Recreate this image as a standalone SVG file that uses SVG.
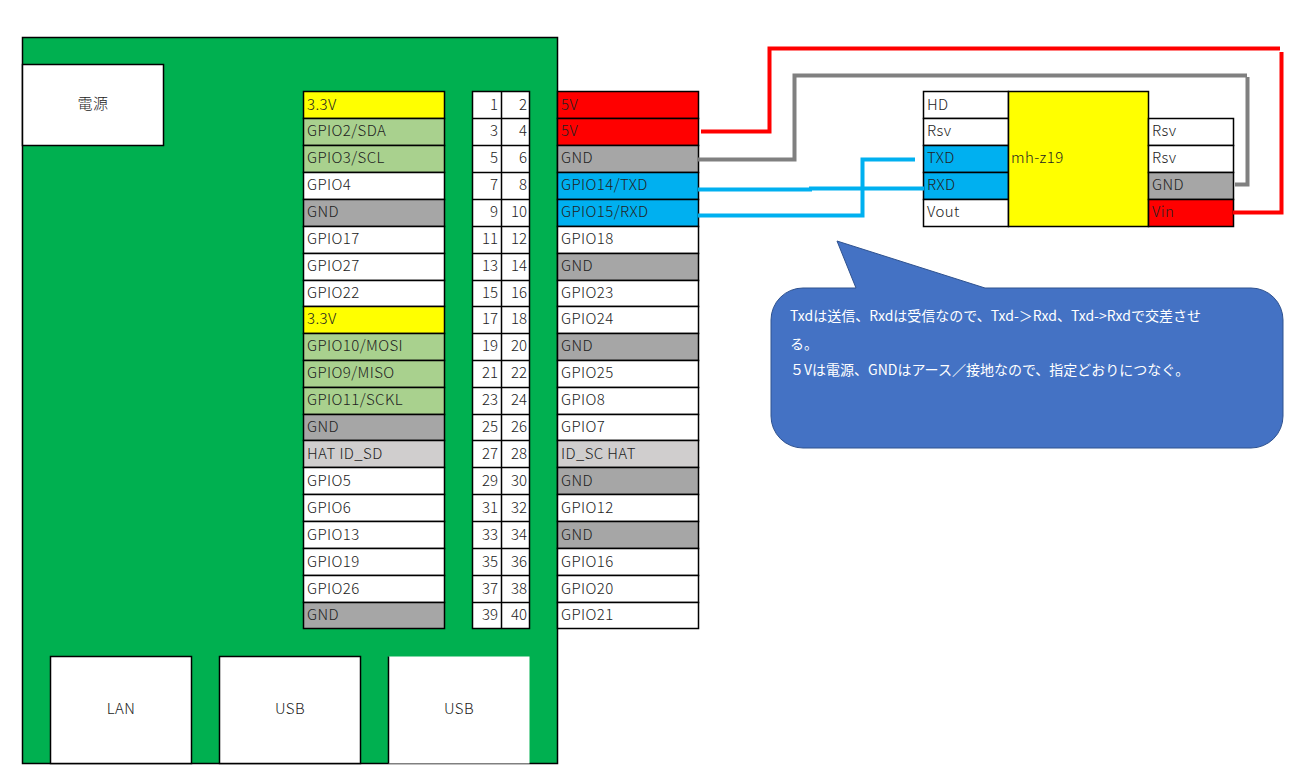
<svg xmlns="http://www.w3.org/2000/svg" width="1313" height="778" viewBox="0 0 1313 778">
<style>
text{font-family:"Noto Sans CJK JP","Noto Sans",sans-serif;font-size:15px;font-weight:300;fill:#222;letter-spacing:.4px}
.n{text-anchor:end;letter-spacing:0}
.c{text-anchor:middle}
.cell{stroke:#000;stroke-width:1.5}
.w{fill:#fff}.y{fill:#ff0}.g{fill:#a9d18e}.k{fill:#a6a6a6}.l{fill:#d0cece}.r{fill:#f00}.b{fill:#00b0f0}
.wire{fill:none;stroke-width:4}
.m{fill:#fff;font-size:14px;font-weight:400;letter-spacing:0}
</style>
<rect width="1313" height="778" fill="#fff"/>
<g id="board"><rect x="22.500" y="37.500" width="535" height="726" fill="#00b050" stroke="#000" stroke-width="1.500"/></g>
<g id="power"><rect class="cell w" x="22.500" y="64.500" width="141" height="81"/><text class="c" x="93" y="109">電源</text></g>
<g id="lan"><rect class="cell w" x="50.500" y="656.500" width="141" height="107"/><text class="c" x="121" y="714">LAN</text></g>
<g id="usb1"><rect class="cell w" x="219.500" y="656.500" width="141" height="107"/><text class="c" x="290" y="714">USB</text></g>
<g id="usb2"><rect x="388.500" y="656.500" width="141" height="107" fill="#fff"/><path d="M388.500 656.500V763.500" stroke="#000" stroke-width="1.500"/><text class="c" x="459" y="714">USB</text></g>
<g id="header-left">
<rect class="cell y" x="303.500" y="91.500" width="141" height="27"/><text x="307" y="110">3.3V</text>
<rect class="cell g" x="303.500" y="118.500" width="141" height="27"/><text x="307" y="136">GPIO2/SDA</text>
<rect class="cell g" x="303.500" y="145.500" width="141" height="27"/><text x="307" y="163">GPIO3/SCL</text>
<rect class="cell w" x="303.500" y="172.500" width="141" height="27"/><text x="307" y="190">GPIO4</text>
<rect class="cell k" x="303.500" y="199.500" width="141" height="27"/><text x="307" y="217">GND</text>
<rect class="cell w" x="303.500" y="226.500" width="141" height="27"/><text x="307" y="244">GPIO17</text>
<rect class="cell w" x="303.500" y="253.500" width="141" height="27"/><text x="307" y="271">GPIO27</text>
<rect class="cell w" x="303.500" y="280.500" width="141" height="26"/><text x="307" y="298">GPIO22</text>
<rect class="cell y" x="303.500" y="306.500" width="141" height="27"/><text x="307" y="324">3.3V</text>
<rect class="cell g" x="303.500" y="333.500" width="141" height="27"/><text x="307" y="351">GPIO10/MOSI</text>
<rect class="cell g" x="303.500" y="360.500" width="141" height="27"/><text x="307" y="378">GPIO9/MISO</text>
<rect class="cell g" x="303.500" y="387.500" width="141" height="27"/><text x="307" y="405">GPIO11/SCKL</text>
<rect class="cell k" x="303.500" y="414.500" width="141" height="26"/><text x="307" y="432">GND</text>
<rect class="cell l" x="303.500" y="440.500" width="141" height="27"/><text x="307" y="459">HAT ID_SD</text>
<rect class="cell w" x="303.500" y="467.500" width="141" height="27"/><text x="307" y="486">GPIO5</text>
<rect class="cell w" x="303.500" y="494.500" width="141" height="27"/><text x="307" y="513">GPIO6</text>
<rect class="cell w" x="303.500" y="521.500" width="141" height="27"/><text x="307" y="540">GPIO13</text>
<rect class="cell w" x="303.500" y="548.500" width="141" height="27"/><text x="307" y="567">GPIO19</text>
<rect class="cell w" x="303.500" y="575.500" width="141" height="27"/><text x="307" y="594">GPIO26</text>
<rect class="cell k" x="303.500" y="602.500" width="141" height="26"/><text x="307" y="620">GND</text>
</g>
<g id="pin-numbers">
<rect class="cell w" x="472.500" y="91.500" width="57" height="537"/>
<path d="M501.500 91.500V628.500M472.500 118.500H529.500M472.500 145.500H529.500M472.500 172.500H529.500M472.500 199.500H529.500M472.500 226.500H529.500M472.500 253.500H529.500M472.500 280.500H529.500M472.500 306.500H529.500M472.500 333.500H529.500M472.500 360.500H529.500M472.500 387.500H529.500M472.500 414.500H529.500M472.500 440.500H529.500M472.500 467.500H529.500M472.500 494.500H529.500M472.500 521.500H529.500M472.500 548.500H529.500M472.500 575.500H529.500M472.500 602.500H529.500" stroke="#000" stroke-width="1.500" fill="none"/>
<text class="n" x="498" y="110">1</text><text class="n" x="527" y="110">2</text>
<text class="n" x="498" y="136">3</text><text class="n" x="527" y="136">4</text>
<text class="n" x="498" y="163">5</text><text class="n" x="527" y="163">6</text>
<text class="n" x="498" y="190">7</text><text class="n" x="527" y="190">8</text>
<text class="n" x="498" y="217">9</text><text class="n" x="527" y="217">10</text>
<text class="n" x="498" y="244">11</text><text class="n" x="527" y="244">12</text>
<text class="n" x="498" y="271">13</text><text class="n" x="527" y="271">14</text>
<text class="n" x="498" y="298">15</text><text class="n" x="527" y="298">16</text>
<text class="n" x="498" y="324">17</text><text class="n" x="527" y="324">18</text>
<text class="n" x="498" y="351">19</text><text class="n" x="527" y="351">20</text>
<text class="n" x="498" y="378">21</text><text class="n" x="527" y="378">22</text>
<text class="n" x="498" y="405">23</text><text class="n" x="527" y="405">24</text>
<text class="n" x="498" y="432">25</text><text class="n" x="527" y="432">26</text>
<text class="n" x="498" y="459">27</text><text class="n" x="527" y="459">28</text>
<text class="n" x="498" y="486">29</text><text class="n" x="527" y="486">30</text>
<text class="n" x="498" y="513">31</text><text class="n" x="527" y="513">32</text>
<text class="n" x="498" y="540">33</text><text class="n" x="527" y="540">34</text>
<text class="n" x="498" y="567">35</text><text class="n" x="527" y="567">36</text>
<text class="n" x="498" y="594">37</text><text class="n" x="527" y="594">38</text>
<text class="n" x="498" y="620">39</text><text class="n" x="527" y="620">40</text>
</g>
<g id="header-right">
<rect class="cell r" x="557.500" y="91.500" width="141" height="27"/><text x="561" y="110">5V</text>
<rect class="cell r" x="557.500" y="118.500" width="141" height="27"/><text x="561" y="136">5V</text>
<rect class="cell k" x="557.500" y="145.500" width="141" height="27"/><text x="561" y="163">GND</text>
<rect class="cell b" x="557.500" y="172.500" width="141" height="27"/><text x="561" y="190">GPIO14/TXD</text>
<rect class="cell b" x="557.500" y="199.500" width="141" height="27"/><text x="561" y="217">GPIO15/RXD</text>
<rect class="cell w" x="557.500" y="226.500" width="141" height="27"/><text x="561" y="244">GPIO18</text>
<rect class="cell k" x="557.500" y="253.500" width="141" height="27"/><text x="561" y="271">GND</text>
<rect class="cell w" x="557.500" y="280.500" width="141" height="26"/><text x="561" y="298">GPIO23</text>
<rect class="cell w" x="557.500" y="306.500" width="141" height="27"/><text x="561" y="324">GPIO24</text>
<rect class="cell k" x="557.500" y="333.500" width="141" height="27"/><text x="561" y="351">GND</text>
<rect class="cell w" x="557.500" y="360.500" width="141" height="27"/><text x="561" y="378">GPIO25</text>
<rect class="cell w" x="557.500" y="387.500" width="141" height="27"/><text x="561" y="405">GPIO8</text>
<rect class="cell w" x="557.500" y="414.500" width="141" height="26"/><text x="561" y="432">GPIO7</text>
<rect class="cell l" x="557.500" y="440.500" width="141" height="27"/><text x="561" y="459">ID_SC HAT</text>
<rect class="cell k" x="557.500" y="467.500" width="141" height="27"/><text x="561" y="486">GND</text>
<rect class="cell w" x="557.500" y="494.500" width="141" height="27"/><text x="561" y="513">GPIO12</text>
<rect class="cell k" x="557.500" y="521.500" width="141" height="27"/><text x="561" y="540">GND</text>
<rect class="cell w" x="557.500" y="548.500" width="141" height="27"/><text x="561" y="567">GPIO16</text>
<rect class="cell w" x="557.500" y="575.500" width="141" height="27"/><text x="561" y="594">GPIO20</text>
<rect class="cell w" x="557.500" y="602.500" width="141" height="26"/><text x="561" y="620">GPIO21</text>
</g>
<g id="mh-z19">
<rect class="cell w" x="923.500" y="91.500" width="85" height="27"/><text x="927" y="110">HD</text>
<rect class="cell w" x="923.500" y="118.500" width="85" height="27"/><text x="927" y="136">Rsv</text>
<rect class="cell b" x="923.500" y="145.500" width="85" height="27"/><text x="927" y="163">TXD</text>
<rect class="cell b" x="923.500" y="172.500" width="85" height="27"/><text x="927" y="190">RXD</text>
<rect class="cell w" x="923.500" y="199.500" width="85" height="27"/><text x="927" y="217">Vout</text>
<rect class="cell y" x="1008.500" y="91.500" width="140" height="135"/><text x="1011" y="163">mh-z19</text>
<rect class="cell w" x="1148.500" y="118.500" width="85" height="27"/><text x="1152" y="136">Rsv</text>
<rect class="cell w" x="1148.500" y="145.500" width="85" height="27"/><text x="1152" y="163">Rsv</text>
<rect class="cell k" x="1148.500" y="172.500" width="85" height="27"/><text x="1152" y="190">GND</text>
<rect class="cell r" x="1148.500" y="199.500" width="85" height="27"/><text x="1152" y="217">Vin</text>
</g>
<g id="connectors">
<path class="wire" stroke="#f00" d="M701 131.500H769.500V48.500H1280"/>
<path class="wire" stroke="#f00" d="M1233 212.500H1281.500V52"/>
<path class="wire" stroke="#808080" d="M698 159.500H794.500V75.500H1247"/>
<path class="wire" stroke="#808080" d="M1235 184.500H1247.500V77"/>
<path class="wire" stroke="#00b0f0" d="M698 189.500H812"/>
<path class="wire" stroke="#00b0f0" d="M809 188.500H924"/>
<path class="wire" stroke="#00b0f0" d="M698 215.500H862.500V159.500H915"/>
</g>
<g id="callout">
<path d="M837 241L985 288H1251A32 32 0 0 1 1283 320V416A32 32 0 0 1 1251 448H803A32 32 0 0 1 771 416V320A32 32 0 0 1 803 288H856Z" fill="#4472c4" stroke="#2f528f" stroke-width="1"/>
<text class="m" x="790" y="321">Txdは送信、Rxdは受信なので、Txd-＞Rxd、Txd-&gt;Rxdで交差させ</text>
<text class="m" x="790" y="349">る。</text>
<text class="m" x="790" y="375">５Vは電源、GNDはアース／接地なので、指定どおりにつなぐ。</text>
</g>
</svg>
